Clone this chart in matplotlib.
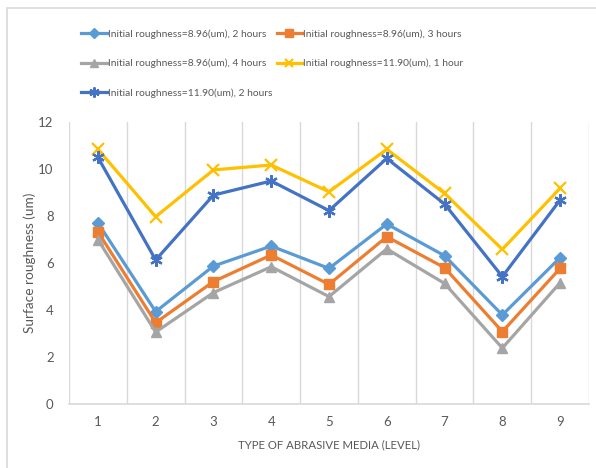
import matplotlib
matplotlib.use("Agg")
import matplotlib.pyplot as plt
from matplotlib.patches import Rectangle

plt.rcParams["font.family"] = ["Lato", "DejaVu Sans"]

levels = [1, 2, 3, 4, 5, 6, 7, 8, 9]
r896_2h = [7.71, 3.93, 5.87, 6.72, 5.77, 7.66, 6.31, 3.79, 6.23]
r896_3h = [7.33, 3.46, 5.21, 6.34, 5.09, 7.12, 5.80, 3.08, 5.77]
r896_4h = [7.00, 3.06, 4.74, 5.84, 4.57, 6.60, 5.13, 2.38, 5.16]
r1190_1h = [10.84, 7.97, 9.96, 10.17, 9.03, 10.84, 8.96, 6.58, 9.18]
r1190_2h = [10.50, 6.13, 8.89, 9.49, 8.23, 10.45, 8.51, 5.42, 8.68]

series = [
    ("Initial roughness=8.96(um), 2 hours", r896_2h, "#5B9BD5", "D", 6),
    ("Initial roughness=8.96(um), 3 hours", r896_3h, "#ED7D31", "s", 7),
    ("Initial roughness=8.96(um), 4 hours", r896_4h, "#A5A5A5", "^", 7),
    ("Initial roughness=11.90(um), 1 hour", r1190_1h, "#FFC000", "x", 8),
    ("Initial roughness=11.90(um), 2 hours", r1190_2h, "#4472C4", (6, 2, 0), 9),
]

fig = plt.figure(figsize=(5.96, 4.68), dpi=100)
fig.patches.append(Rectangle((7 / 596, -0.1), 1.2, 1.1 - 8 / 468,
                             transform=fig.transFigure, fill=False,
                             edgecolor="#D9D9D9", linewidth=1.2, zorder=0))

ax = fig.add_axes([69 / 596, 1 - 404 / 468, 520 / 596, 282 / 468])

for label, vals, color, marker, ms in series:
    ax.plot(levels, vals, color=color, linewidth=2.3, marker=marker,
            markersize=ms, markeredgewidth=1.6 if marker in ("x", (6, 2, 0)) else 1,
            markeredgecolor=color, markerfacecolor=color, label=label,
            solid_joinstyle="round")

ax.set_xlim(0.5, 9.5)
ax.set_ylim(0, 12)
ax.set_yticks(range(0, 13, 2))
ax.set_xticks(levels)
for b in [x + 0.5 for x in range(0, 10)]:
    ax.axvline(b, color="#D9D9D9", linewidth=1, zorder=0)

for s in ["top", "right", "left"]:
    ax.spines[s].set_visible(False)
ax.spines["bottom"].set_color("#D9D9D9")
ax.spines["bottom"].set_linewidth(1.2)
ax.tick_params(axis="both", length=0, colors="#595959", labelsize=9.5)
ax.tick_params(axis="x", pad=9)
ax.tick_params(axis="y", pad=11)

ax.set_xlabel("TYPE OF ABRASIVE MEDIA (LEVEL)", color="#595959", fontsize=8.2, labelpad=8)
ax.set_ylabel("Surface roughness (um)", color="#595959", fontsize=9.8, labelpad=2)

# legend filled row by row: 2 columns
handles, labels = ax.get_legend_handles_labels()
order = [0, 2, 4, 1, 3]
leg = fig.legend([handles[i] for i in order], [labels[i] for i in order],
                 loc="upper left", bbox_to_anchor=(72 / 596, 1 - 20 / 468),
                 ncol=2, frameon=False, fontsize=7.4, labelcolor="#595959",
                 handlelength=2.5, handletextpad=0.1, columnspacing=0.4,
                 labelspacing=1.95, markerscale=0.8)

fig.savefig("out.png", dpi=100)
